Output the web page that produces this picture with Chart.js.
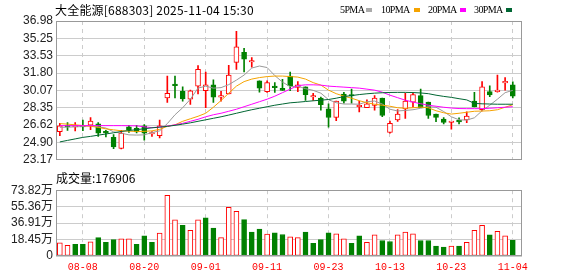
<!DOCTYPE html>
<html><head><meta charset="utf-8">
<script src="https://cdn.jsdelivr.net/npm/chart.js@4.4.0/dist/chart.umd.min.js"></script>
<style>
html,body{margin:0;padding:0;background:#fff;}
#wrap{position:relative;width:578px;height:276px;overflow:hidden;background:#fff;}
canvas{position:absolute;left:0;}
.t{position:absolute;white-space:nowrap;line-height:1;}
#title{left:55px;top:4px;font-size:12px;font-family:"Noto Sans CJK SC";color:#000;letter-spacing:0.2px;}
#volhead{left:56px;top:172px;font-size:12px;font-family:"Noto Sans CJK SC";color:#000;}
.lg{position:absolute;top:5px;font-size:10px;font-family:"Liberation Serif";color:#000;white-space:nowrap;line-height:1;letter-spacing:-0.6px;}
.sq{position:absolute;top:8px;width:6px;height:4px;}
</style></head><body>
<div id="wrap">
<canvas id="pc" width="578" height="170" style="top:0"></canvas>
<canvas id="vc" width="578" height="96" style="top:180px"></canvas>
<div class="t" id="title">大全能源[688303] 2025-11-04 15:30</div>
<div class="t" id="volhead">成交量:176906</div>
<div class="lg" style="left:340px">5PMA</div><div class="sq" style="left:366px;background:#aaaaaa"></div>
<div class="lg" style="left:381px">10PMA</div><div class="sq" style="left:414px;background:#f5a300"></div>
<div class="lg" style="left:428px">20PMA</div><div class="sq" style="left:460px;background:#ff00ff"></div>
<div class="lg" style="left:474px">30PMA</div><div class="sq" style="left:506px;background:#006633"></div>
</div>
<script>
const dates = ['08-05','08-06','08-07','08-08','08-11','08-12','08-13','08-14','08-15','08-18',
'08-19','08-20','08-21','08-22','08-25','08-26','08-27','08-28','08-29','09-01',
'09-02','09-03','09-04','09-05','09-08','09-09','09-10','09-11','09-12','09-15',
'09-16','09-17','09-18','09-19','09-22','09-23','09-24','09-25','09-26','09-29',
'09-30','10-09','10-10','10-13','10-14','10-15','10-16','10-17','10-20','10-21',
'10-22','10-23','10-24','10-27','10-28','10-29','10-30','10-31','11-03','11-04'];
const tickDates = ['08-08','08-20','09-01','09-11','09-23','10-13','10-23','11-04'];
const open  = [25.96,26.52,26.45,26.55,26.61,26.74,25.93,25.41,24.31,26.45,
26.31,26.55,25.74,25.57,29.33,30.70,29.98,29.20,30.50,30.04,
30.63,29.40,29.72,32.87,33.87,32.90,31.02,29.95,30.40,30.27,
31.50,30.37,30.43,29.42,29.30,28.23,27.38,29.72,29.60,28.45,
28.35,28.59,29.30,25.89,27.13,28.23,28.91,29.56,28.91,27.71,
27.23,26.88,27.00,27.13,29.01,28.16,29.95,29.95,30.82,30.63];
const high  = [26.80,26.87,26.87,27.13,27.38,26.87,26.09,25.67,26.09,26.60,
26.60,26.67,25.99,27.13,31.50,31.50,30.43,30.10,32.54,31.89,
31.12,29.98,32.57,35.94,34.26,33.35,31.02,31.02,30.85,31.17,
31.89,30.95,30.43,29.78,29.40,28.74,29.01,29.88,30.20,29.01,
29.13,29.56,29.30,27.03,28.17,29.78,29.78,30.20,28.91,27.71,
27.38,26.96,27.35,27.94,29.88,30.95,30.53,31.60,31.34,30.92];
const low   = [25.57,26.10,26.04,26.06,26.16,25.50,25.44,24.27,24.25,25.89,
25.85,25.12,25.50,25.34,28.88,29.33,29.01,28.68,29.72,28.35,
28.88,29.01,29.72,32.15,31.92,32.38,29.91,29.88,29.88,30.07,
30.04,29.95,29.07,29.07,28.10,26.41,27.06,28.81,28.81,27.94,
28.35,28.10,27.45,25.83,26.99,27.28,28.42,28.35,27.28,26.96,
26.74,26.22,26.74,26.87,28.42,28.03,29.46,29.90,30.11,29.33];
const close = [26.55,26.45,26.50,26.45,27.03,25.83,25.85,24.46,25.83,26.15,
25.95,25.83,25.80,26.55,29.78,30.55,29.23,30.04,32.18,30.63,
29.40,29.50,31.60,34.42,33.19,33.00,30.30,30.85,30.35,30.07,
30.53,30.63,29.66,29.50,28.65,27.38,29.01,29.01,29.52,28.52,
28.74,29.30,27.58,26.80,27.71,29.01,29.66,28.35,27.58,27.38,
26.90,26.92,26.94,27.52,28.42,30.43,29.62,30.00,30.88,29.49];
const ma5  = [26.40,26.42,26.45,26.48,26.58,26.45,26.33,25.95,25.82,25.65,
25.63,25.65,25.88,26.05,26.77,27.65,28.35,29.20,30.30,30.50,
30.30,30.35,30.65,31.10,31.60,32.30,32.50,32.35,31.55,30.90,
30.45,30.50,30.25,30.08,29.80,29.15,28.85,28.72,28.72,28.70,
28.95,29.02,28.72,28.20,28.03,28.08,28.15,28.30,28.45,28.40,
27.97,27.45,27.15,27.12,27.35,28.05,28.60,29.20,29.85,30.08];
const ma10 = [26.77,26.72,26.65,26.58,26.50,26.40,26.25,26.15,26.06,26.02,
25.99,26.00,26.05,26.20,26.50,26.65,27.00,27.25,27.50,27.80,
28.40,29.07,29.80,30.50,30.95,31.20,31.35,31.45,31.50,31.50,
31.45,31.40,31.20,30.85,30.60,30.10,29.75,29.50,29.30,29.05,
28.85,28.70,28.60,28.50,28.35,28.30,28.35,28.42,28.35,28.05,
27.85,27.72,27.80,27.90,28.00,28.02,28.05,28.15,28.40,28.65];
const ma20 = [26.57,26.57,26.57,26.57,26.57,26.57,26.57,26.57,26.57,26.56,
26.55,26.45,26.37,26.43,26.52,26.65,26.80,27.00,27.20,27.45,
27.65,27.80,28.00,28.20,28.45,28.70,28.95,29.20,29.50,29.85,
30.20,30.55,30.63,30.63,30.60,30.50,30.45,30.40,30.35,30.30,
30.20,30.10,29.90,29.60,29.35,29.10,28.91,28.75,28.60,28.50,
28.40,28.32,28.27,28.26,28.26,28.26,28.30,28.35,28.40,28.45];
const ma30 = [24.95,25.10,25.25,25.40,25.50,25.62,25.74,25.86,25.99,26.08,
26.17,26.26,26.35,26.42,26.50,26.60,26.72,26.85,27.00,27.15,
27.30,27.45,27.62,27.80,27.98,28.15,28.30,28.45,28.60,28.72,
28.84,28.90,28.97,29.04,29.10,29.17,29.30,29.46,29.56,29.66,
29.74,29.80,29.84,29.87,29.88,29.88,29.86,29.82,29.75,29.60,
29.48,29.38,29.25,29.13,28.78,28.74,28.72,28.70,28.70,28.70];
const volume = [14.9,12.0,13.1,13.1,16.0,20.6,15.2,18.4,19.2,19.2,
13.1,22.7,15.2,25.6,68.2,40.5,34.4,28.8,40.5,42.9,
31.2,20.6,54.6,50.1,40.8,26.9,30.1,24.5,25.9,24.1,
21.6,20.6,26.9,14.2,18.4,25.9,24.8,19.2,14.2,22.7,
15.2,23.7,17.4,16.3,23.7,26.9,24.8,17.4,17.4,11.0,
9.9,11.0,11.0,15.2,28.8,34.4,23.7,27.7,22.7,17.69];
const volUp = [1,1,0,0,1,0,0,0,1,1,
0,0,0,1,1,1,0,1,1,0,
0,1,1,1,0,0,0,1,0,0,
1,1,0,0,0,0,1,1,0,0,
1,1,0,0,1,1,1,0,0,0,
0,1,0,1,1,1,0,1,1,0];
const priceTicks = [23.17,24.90,26.62,28.35,30.07,31.80,33.53,35.25,36.98];
const volTicks = [0,18.45,36.91,55.36,73.82];

const RED = '#ff0000', GREEN = '#008000';
const tickIdx = tickDates.map(d => dates.indexOf(d));
const candleUp = dates.map((d,i) => close[i] >= open[i]);

const framePlugin = {
  id: 'frame',
  afterDraw(chart) {
    const {ctx, chartArea: a} = chart;
    ctx.save();
    ctx.strokeStyle = '#999';
    ctx.lineWidth = 1;
    ctx.strokeRect(Math.round(a.left) + 0.5, Math.round(a.top) + 0.5, Math.round(a.right - a.left) - 1, Math.round(a.bottom - a.top) - 1);
    ctx.restore();
  }
};

Chart.defaults.font.family = '"Liberation Sans", "Noto Sans CJK SC", sans-serif';
Chart.defaults.font.size = 12;
Chart.defaults.color = '#222';

function xScale(showLabels) {
  return {
    type: 'linear', min: -0.5, max: 60.2, offset: false,
    afterBuildTicks: s => { s.ticks = tickIdx.map(v => ({value: v})); },
    afterFit: s => { s.height = showLabels ? 20 : 0; },
    grid: { color: '#cccccc', drawTicks: false, lineWidth: 1, offset: false },
    border: { display: false, dash: [4, 4] },
    ticks: {
      display: showLabels, autoSkip: false, maxRotation: 0, padding: 5,
      color: RED, font: { family: '"Liberation Mono", monospace', size: 10 },
      callback: v => dates[v]
    }
  };
}

const line = (arr, color, order) => ({
  type: 'line', data: arr.map((v, i) => ({x: i, y: v})),
  borderColor: color, borderWidth: 1, pointRadius: 0, tension: 0, order
});

new Chart(document.getElementById('pc'), {
  type: 'bar',
  data: {
    datasets: [
      line(ma30, '#006633', 0),
      line(ma20, '#ff00ff', 1),
      line(ma10, '#f5a300', 2),
      line(ma5, '#999999', 3),
      {
        type: 'bar', order: 4, grouped: false,
        data: dates.map((d, i) => ({x: i, y: [open[i], close[i]]})),
        backgroundColor: candleUp.map(u => u ? '#ffffff' : GREEN),
        borderColor: candleUp.map(u => u ? RED : GREEN),
        borderWidth: 1, borderSkipped: false, barThickness: 5, minBarLength: 1.5
      },
      {
        type: 'bar', order: 5, grouped: false,
        data: dates.map((d, i) => ({x: i, y: [low[i], high[i]]})),
        backgroundColor: candleUp.map(u => u ? RED : GREEN),
        borderWidth: 0, barThickness: 1
      }
    ]
  },
  options: {
    responsive: false, animation: false, devicePixelRatio: 1,
    layout: { padding: { top: 21, right: 56, bottom: 5, left: 0 } },
    plugins: { legend: { display: false }, tooltip: { enabled: false } },
    scales: {
      x: xScale(false),
      y: {
        type: 'linear', min: 23.17, max: 36.98,
        afterBuildTicks: s => { s.ticks = priceTicks.map(v => ({value: v})); },
        afterFit: s => { s.width = 56; },
        grid: { color: '#cccccc', drawTicks: false },
        border: { display: false },
        ticks: { padding: 3, autoSkip: false, callback: v => v.toFixed(2) }
      }
    }
  },
  plugins: [framePlugin]
});

new Chart(document.getElementById('vc'), {
  type: 'bar',
  data: {
    datasets: [{
      data: volume.map((v, i) => ({x: i, y: v})),
      backgroundColor: volUp.map(u => u ? '#ffffff' : GREEN),
      borderColor: volUp.map(u => u ? RED : GREEN),
      borderWidth: 1, borderSkipped: false, barThickness: 5, grouped: false
    }]
  },
  options: {
    responsive: false, animation: false, devicePixelRatio: 1,
    layout: { padding: { top: 6, right: 56, bottom: 0, left: 0 } },
    plugins: { legend: { display: false }, tooltip: { enabled: false } },
    scales: {
      x: xScale(true),
      y: {
        type: 'linear', min: 0, max: 73.82,
        afterBuildTicks: s => { s.ticks = volTicks.map(v => ({value: v})); },
        afterFit: s => { s.width = 56; },
        grid: { color: '#cccccc', drawTicks: false },
        border: { display: false },
        ticks: { padding: 3, autoSkip: false, callback: v => v === 0 ? '0' : v.toFixed(2) + '万' }
      }
    }
  },
  plugins: [framePlugin]
});
</script>
</body></html>
